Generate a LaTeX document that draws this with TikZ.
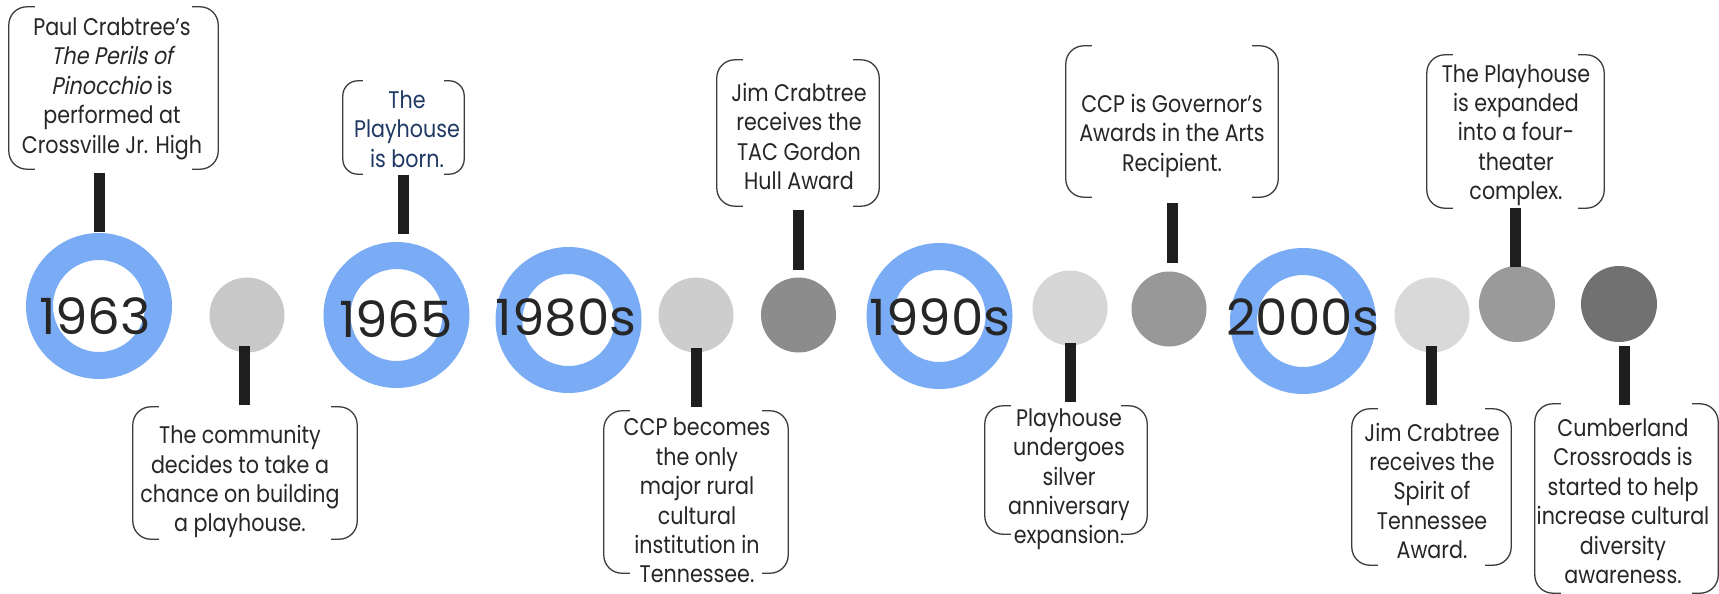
\documentclass[tikz,border=0pt]{standalone}
\usepackage{fontspec}
\setmainfont{Poppins}[FakeStretch=0.86, AutoFakeSlant=0.2]
\newfontfamily\yearface{Poppins}[FakeStretch=1.03]
\definecolor{ringblue}{HTML}{7AACF6}
\definecolor{stemc}{HTML}{1E1E1E}
\definecolor{framec}{HTML}{3C3C3C}
\definecolor{txt}{HTML}{262626}
\definecolor{navy}{HTML}{1F3864}
\newcommand{\evfont}{\fontsize{24pt}{29.4pt}\selectfont}
\newcommand{\yrfont}{\yearface\fontsize{50pt}{60pt}\selectfont}
% two facing brackets drawn on the sides of a frame node
\newcommand{\bracketbox}[3]{%
  \draw[boxframe, rounded corners=#3] ([xshift=#2]#1.north west) -- (#1.north west)
     -- (#1.south west) -- ([xshift=#2]#1.south west);
  \draw[boxframe, rounded corners=#3] ([xshift=-#2]#1.north east) -- (#1.north east)
     -- (#1.south east) -- ([xshift=-#2]#1.south east);
}
\tikzset{
  ring/.style={circle, draw=ringblue, line width=27pt, minimum size=119pt, inner sep=0pt},
  dot/.style={circle, minimum size=75pt, inner sep=0pt},
  stembar/.style={draw=stemc, line width=11pt},
  boxframe/.style={draw=framec, line width=1.3pt},
  frame/.style 2 args={rectangle, inner sep=0pt, minimum width=#1pt, minimum height=#2pt},
  evt/.style={align=center, font=\evfont, text=txt, inner sep=0pt},
  yr/.style={font=\yrfont, text=txt, inner sep=0pt, anchor=base},
}
\begin{document}
\begin{tikzpicture}[x=1pt, y=-1pt]
\useasboundingbox[fill=white] (0,0) rectangle (1719,594);

% milestone rings
\node[ring] (r1963) at (99,306) {};
\node[ring] (r1965) at (396.5,315) {};
\node[ring] (r1980) at (568.5,320) {};
\node[ring] (r1990) at (939.5,316) {};
\node[ring] (r2000) at (1303,321) {};

% event dots
\node[dot, fill={rgb,255:red,200;green,200;blue,200}] (d1) at (247,315) {};
\node[dot, fill={rgb,255:red,205;green,205;blue,205}] (d2) at (696,315) {};
\node[dot, fill={rgb,255:red,140;green,140;blue,140}] (d3) at (798.5,315) {};
\node[dot, fill={rgb,255:red,214;green,214;blue,214}] (d4) at (1070,308) {};
\node[dot, fill={rgb,255:red,152;green,152;blue,152}] (d5) at (1169,309) {};
\node[dot, fill={rgb,255:red,217;green,217;blue,217}] (d6) at (1432,315) {};
\node[dot, minimum size=76pt, fill={rgb,255:red,154;green,154;blue,154}] (d7) at (1517,304) {};
\node[dot, minimum size=76pt, fill={rgb,255:red,113;green,113;blue,113}] (d8) at (1619,304) {};

% year labels
\node[yr] (y1963) at (95,334) {1963};
\node[yr] (y1965) at (396,337) {1965};
\node[yr] (y1980) at (566,335) {1980s};
\node[yr] (y1990) at (940,335) {1990s};
\node[yr] (y2000) at (1303,335) {2000s};

% frames of the event boxes
\node[frame={209}{162}] (b1) at (113.5,88) {};
\node[frame={224}{132}] (b2) at (245,473) {};
\node[frame={121}{93}] (b3) at (403.5,127.5) {};
\node[frame={184}{162}] (b4) at (696,492) {};
\node[frame={162}{146}] (b5) at (798,133) {};
\node[frame={162}{128}] (b6) at (1066,470) {};
\node[frame={212}{151}] (b7) at (1172,121.5) {};
\node[frame={159}{156}] (b8) at (1431.5,487) {};
\node[frame={177}{153}] (b9) at (1515.5,131.5) {};
\node[frame={183}{189}] (b10) at (1626.5,498.5) {};
\bracketbox{b1}{26pt}{18pt}
\bracketbox{b2}{26pt}{18pt}
\bracketbox{b3}{20pt}{15pt}
\bracketbox{b4}{26pt}{18pt}
\bracketbox{b5}{26pt}{18pt}
\bracketbox{b6}{26pt}{18pt}
\bracketbox{b7}{26pt}{18pt}
\bracketbox{b8}{26pt}{18pt}
\bracketbox{b9}{26pt}{18pt}
\bracketbox{b10}{26pt}{18pt}

% event texts
\node[evt] (t1) at (112,88.4) {\strut Paul Crabtree’s\\\strut\textit{The Perils of}\\\strut\textit{Pinocchio} is\\\strut performed at\\\strut Crossville Jr. High};
\node[evt] (t2) at (240,482) {\strut The community\\\strut decides to take a\\\strut chance on building\\\strut a playhouse.};
\node[evt, text=navy] (t3) at (407,132) {\strut The\\\strut Playhouse\\\strut is born.};
\node[evt] (t4) at (697,503.5) {\strut CCP becomes\\\strut the only\\\strut major rural\\\strut cultural\\\strut institution in\\\strut Tennessee.};
\node[evt] (t5) at (799,139.75) {\strut Jim Crabtree\\\strut receives the\\\strut TAC Gordon\\\strut Hull Award};
\node[evt] (t6) at (1069,479.2) {\strut Playhouse\\\strut undergoes\\\strut silver\\\strut anniversary\\\strut expansion.};
\node[evt] (t7) at (1172,136) {\strut CCP is Governor’s\\\strut Awards in the Arts\\\strut Recipient.};
\node[evt] (t8) at (1432,494) {\strut Jim Crabtree\\\strut receives the\\\strut Spirit of\\\strut Tennessee\\\strut Award.};
\node[evt] (t9) at (1516,135) {\strut The Playhouse\\\strut is expanded\\\strut into a four-\\\strut theater\\\strut complex.};
\node[evt] (t10) at (1623,504.2) {\strut Cumberland\\\strut Crossroads is\\\strut started to help\\\strut increase cultural\\\strut diversity\\\strut awareness.};

% stems joining boxes to the timeline
\coordinate (s1a) at (99.5,173);   \coordinate (s1b) at (99.5,232);
\coordinate (s2a) at (244.5,346);  \coordinate (s2b) at (244.5,405);
\coordinate (s3a) at (403.5,175);  \coordinate (s3b) at (403.5,234);
\coordinate (s4a) at (696.5,348);  \coordinate (s4b) at (696.5,407);
\coordinate (s5a) at (798.5,210);  \coordinate (s5b) at (798.5,270);
\coordinate (s6a) at (1070.5,343); \coordinate (s6b) at (1070.5,402);
\coordinate (s7a) at (1172.5,203); \coordinate (s7b) at (1172.5,263);
\coordinate (s8a) at (1431.5,346); \coordinate (s8b) at (1431.5,405);
\coordinate (s9a) at (1515.5,208); \coordinate (s9b) at (1515.5,267);
\coordinate (s10a) at (1624.5,346); \coordinate (s10b) at (1624.5,405);
\foreach \s in {1,...,10}{\draw[stembar] (s\s a) -- (s\s b);}
\end{tikzpicture}
\end{document}
